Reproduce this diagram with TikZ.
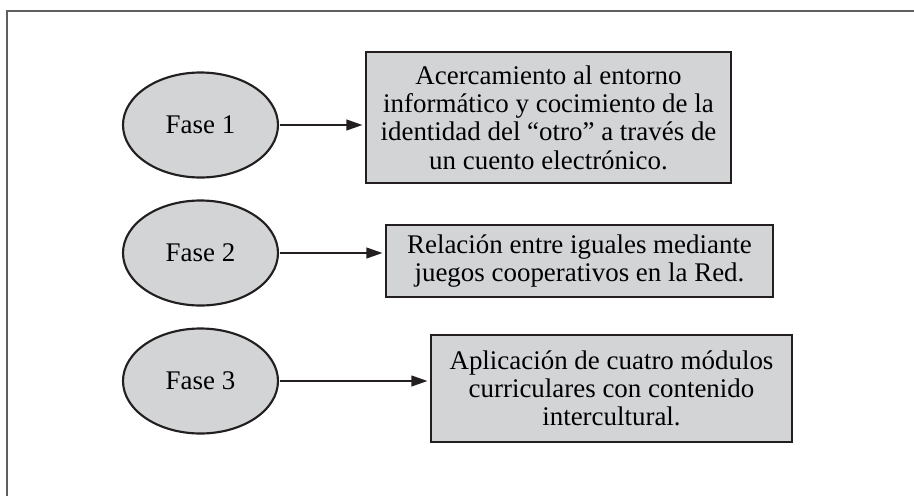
\documentclass[tikz,border=0pt]{standalone}
\usepackage{fontspec}
\setmainfont{Liberation Serif}
\usetikzlibrary{arrows.meta,shapes.geometric}

\tikzset{every picture/.style={line width=0.75pt}}
\definecolor{fasegray}{RGB}{211,212,214}
\definecolor{inkdark}{RGB}{35,31,32}
\definecolor{framegray}{RGB}{95,95,95}

\begin{document}
\begin{tikzpicture}[x=0.75pt,y=0.75pt,yscale=-1,xscale=1,
  fase/.style={ellipse, draw=inkdark, line width=1.6pt, fill=fasegray, minimum width=116.25pt, minimum height=78.75pt, inner sep=0pt, font=\fontsize{20.2}{21.2}\selectfont},
  caja/.style={rectangle, draw=inkdark, line width=1.3pt, fill=fasegray, align=center, inner sep=0pt, font=\fontsize{20.2}{21.2}\selectfont},
  flecha/.style={draw=inkdark, line width=1.4pt, -{Triangle[length=12pt,width=8pt]}, shorten >=2pt, shorten <=1pt}]
\useasboundingbox (0,0) rectangle (914,496);

%Straight Lines [frame] 
\draw [color=framegray, line width=1.5pt] (7,496) -- (7,11) -- (914,11) ;

%Shape: Ellipse [fase1] 
\node [fase] (fase1) at (200.5,125) {Fase 1};
%Shape: Ellipse [fase2] 
\node [fase] (fase2) at (200.5,253) {Fase 2};
%Shape: Ellipse [fase3] 
\node [fase] (fase3) at (200.5,381) {Fase 3};

%Shape: Rectangle [caja1] 
\node [caja, minimum width=273.75pt, minimum height=98.25pt] (caja1) at (548.5,117.5) {Acercamiento al entorno\\informático y cocimiento de la\\identidad del “otro” a través de\\un cuento electrónico.};
%Shape: Rectangle [caja2] 
\node [caja, minimum width=290.25pt, minimum height=54pt] (caja2) at (579.5,261) {Relación entre iguales mediante\\juegos cooperativos en la Red.};
%Shape: Rectangle [caja3] 
\node [caja, minimum width=270.75pt, minimum height=80.25pt] (caja3) at (611.5,388.5) {Aplicación de cuatro módulos\\curriculares con contenido\\intercultural.};

%Straight Lines [fase -> caja] 
\draw [flecha] (fase1) -- (fase1 -| caja1.west) ;
\draw [flecha] (fase2) -- (fase2 -| caja2.west) ;
\draw [flecha] (fase3) -- (fase3 -| caja3.west) ;

\end{tikzpicture}
\end{document}
